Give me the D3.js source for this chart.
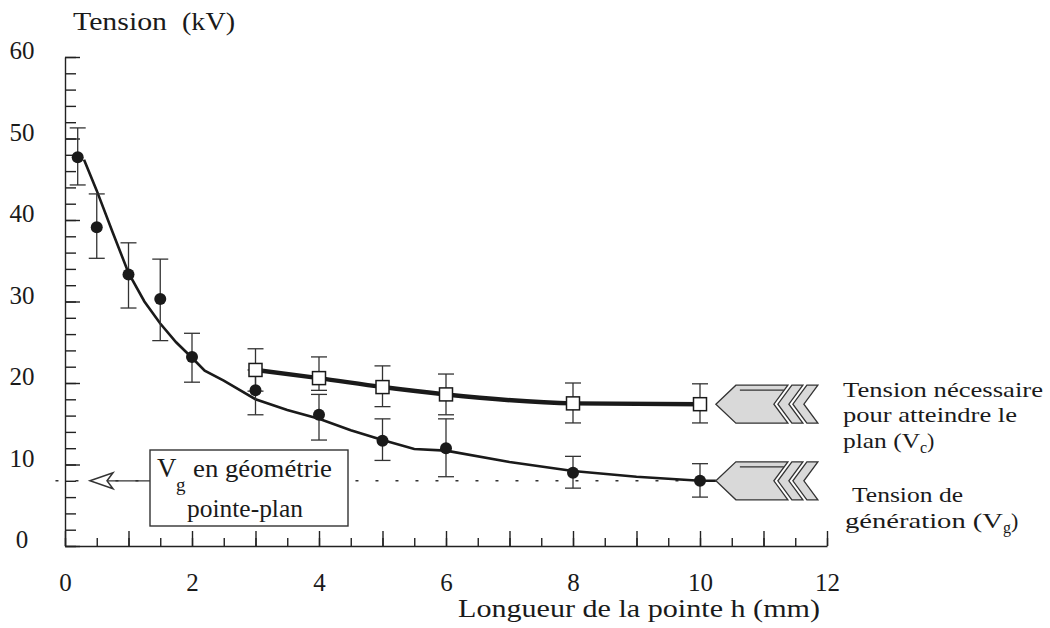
<!DOCTYPE html>
<html>
<head>
<meta charset="utf-8">
<script src="https://cdn.jsdelivr.net/npm/d3@7"></script>
<style>
  body { margin: 0; background: #fff; }
</style>
</head>
<body>
<div id="chart"></div>
<script>
const width = 1050;
const height = 628;
const serif = '"Liberation Serif"';

// Tension de generation (Vg) : points mesures et barres d'erreur
const hGen = [0.2, 0.5, 1, 1.5, 2, 3, 4, 5, 6, 8, 10];
const vGen = [47.7, 39.1, 33.3, 30.3, 23.2, 19.1, 16.1, 12.9, 12.0, 9.0, 8.0];
const vGenLo = [44.3, 35.3, 29.2, 25.2, 20.1, 16.1, 13.0, 10.5, 8.5, 7.1, 6.0];
const vGenHi = [51.3, 43.2, 37.2, 35.2, 26.1, 21.6, 18.6, 15.6, 15.6, 11.0, 10.1];

// courbe lissee de Vg
const fitH = [0.3, 0.5, 0.75, 1.0, 1.25, 1.5, 1.75, 2.0, 2.2, 2.5, 3.0, 3.5, 4.0, 4.5, 5.0, 5.5, 6.0, 7.0, 8.0, 9.0, 10.0, 10.25];
const fitV = [47.4, 43.6, 38.5, 33.5, 30.0, 27.3, 25.0, 23.1, 21.5, 20.3, 18.0, 16.7, 15.6, 14.2, 13.0, 11.9, 11.7, 10.3, 9.2, 8.5, 8.0, 8.0];

// Tension necessaire pour atteindre le plan (Vc)
const hCrit = [3, 4, 5, 6, 8, 10];
const vCrit = [21.6, 20.6, 19.5, 18.6, 17.5, 17.4];
const vCritLo = [19.0, 19.1, 17.1, 16.1, 15.1, 15.1];
const vCritHi = [24.2, 23.2, 22.1, 21.1, 20.0, 19.9];

// Vg en geometrie pointe-plan
const vgPointePlan = 8;
const dottedH = [-0.15, 10];

const xTicks = [0, 2, 4, 6, 8, 10, 12];
const yTicks = [0, 10, 20, 30, 40, 50, 60];

const svg = d3.select('#chart')
  .append('svg')
  .attr('width', width)
  .attr('height', height);

const x = d3.scaleLinear().domain([0, 12]).range([65, 827]);
const y = d3.scaleLinear().domain([0, 60]).range([546, 57]);

function label(sel, size) {
  return sel.style('font-family', serif).style('font-size', size + 'px').attr('fill', '#1a1a1a');
}

// Axe Y : graduations vers l'interieur
svg.append('g')
  .attr('transform', `translate(${x(0)},0)`)
  .call(d3.axisRight(y).tickValues(d3.range(0, 61, 2)).tickSize(11).tickSizeOuter(0).tickFormat(''))
  .call(g => g.selectAll('line,path').attr('stroke', '#222').attr('stroke-width', 1.4));
svg.append('g')
  .attr('transform', `translate(${x(0)},0)`)
  .call(d3.axisRight(y).tickValues(yTicks).tickSize(15).tickSizeOuter(0).tickFormat(''))
  .call(g => g.select('.domain').remove())
  .call(g => g.selectAll('line').attr('stroke', '#222').attr('stroke-width', 1.4));
svg.append('g')
  .attr('transform', `translate(${x(0)},0)`)
  .call(d3.axisLeft(y).tickValues(yTicks).tickSize(0).tickPadding(43))
  .call(g => g.select('.domain').remove())
  .call(g => label(g.selectAll('text'), 25)
    .attr('text-anchor', 'middle')
    .attr('dy', '0.07em'));

// Axe X
svg.append('g')
  .attr('transform', `translate(0,${y(0)})`)
  .call(d3.axisTop(x).tickValues(d3.range(0, 12.01, 0.5)).tickSize(8).tickSizeOuter(0).tickFormat(''))
  .call(g => g.selectAll('line,path').attr('stroke', '#222').attr('stroke-width', 1.4));
svg.append('g')
  .attr('transform', `translate(0,${y(0)})`)
  .call(d3.axisTop(x).tickValues(d3.range(0, 12.01, 1)).tickSize(15).tickSizeOuter(0).tickFormat(''))
  .call(g => g.select('.domain').remove())
  .call(g => g.selectAll('line').attr('stroke', '#222').attr('stroke-width', 1.4));
svg.append('g')
  .attr('transform', `translate(0,${y(0)})`)
  .call(d3.axisBottom(x).tickValues(xTicks).tickSize(0).tickPadding(27))
  .call(g => g.select('.domain').remove())
  .call(g => label(g.selectAll('text'), 25));

// Titres des axes
label(svg.append('text'), 26)
  .attr('x', 73).attr('y', 30)
  .attr('textLength', 94).attr('lengthAdjust', 'spacingAndGlyphs')
  .text('Tension');
label(svg.append('text'), 26)
  .attr('x', 182).attr('y', 30)
  .attr('textLength', 53).attr('lengthAdjust', 'spacingAndGlyphs')
  .text('(kV)');
label(svg.append('text'), 26)
  .attr('x', 458).attr('y', 617)
  .attr('textLength', 362).attr('lengthAdjust', 'spacingAndGlyphs')
  .text('Longueur de la pointe h (mm)');

// Ligne pointillee Vg pointe-plan
svg.append('line')
  .attr('x1', x(dottedH[0])).attr('x2', x(dottedH[1]))
  .attr('y1', y(vgPointePlan)).attr('y2', y(vgPointePlan))
  .attr('stroke', '#333').attr('stroke-width', 1.4)
  .attr('stroke-dasharray', '3,17');

// Courbes
const lineFit = d3.line().x(d => x(d[0])).y(d => y(d[1]));
svg.append('path')
  .datum(d3.zip(fitH, fitV))
  .attr('d', lineFit)
  .attr('fill', 'none').attr('stroke', '#1a1a1a').attr('stroke-width', 2.6);

const lineCrit = d3.line().x(d => x(d[0])).y(d => y(d[1])).curve(d3.curveMonotoneX);
svg.append('path')
  .datum(d3.zip(hCrit, vCrit))
  .attr('d', lineCrit)
  .attr('fill', 'none').attr('stroke', '#1a1a1a').attr('stroke-width', 4.5);

// Barres d'erreur
function errorBars(hs, lo, hi) {
  const g = svg.append('g').attr('stroke', '#333').attr('stroke-width', 1.3);
  hs.forEach((h, i) => {
    g.append('line').attr('x1', x(h)).attr('x2', x(h)).attr('y1', y(lo[i])).attr('y2', y(hi[i]));
    [lo[i], hi[i]].forEach(v => {
      g.append('line').attr('x1', x(h) - 8).attr('x2', x(h) + 8).attr('y1', y(v)).attr('y2', y(v));
    });
  });
}
errorBars(hGen, vGenLo, vGenHi);
errorBars(hCrit, vCritLo, vCritHi);

// Points
svg.selectAll('.gen')
  .data(d3.zip(hGen, vGen))
  .enter().append('circle')
  .attr('class', 'gen')
  .attr('cx', d => x(d[0])).attr('cy', d => y(d[1]))
  .attr('r', 6)
  .attr('fill', '#1a1a1a');

svg.selectAll('.crit')
  .data(d3.zip(hCrit, vCrit))
  .enter().append('rect')
  .attr('class', 'crit')
  .attr('x', d => x(d[0]) - 6.5).attr('y', d => y(d[1]) - 6.5)
  .attr('width', 13).attr('height', 13)
  .attr('fill', '#fff').attr('stroke', '#1a1a1a').attr('stroke-width', 1.5);

// Encadre "Vg en geometrie pointe-plan"
svg.append('line')
  .attr('x1', 107).attr('x2', 150)
  .attr('y1', y(vgPointePlan)).attr('y2', y(vgPointePlan))
  .attr('stroke', '#333').attr('stroke-width', 1.3);
svg.append('path')
  .attr('transform', `translate(90,${y(vgPointePlan)})`)
  .attr('d', 'M0,0 L23,-8 L17,0 L23,8 Z')
  .attr('fill', '#fff').attr('stroke', '#333').attr('stroke-width', 1.5);

svg.append('rect')
  .attr('x', 150).attr('y', 450).attr('width', 198).attr('height', 76)
  .attr('fill', '#fff').attr('stroke', '#333').attr('stroke-width', 1.4);
label(svg.append('text'), 27).attr('x', 157).attr('y', 477).text('V');
label(svg.append('text'), 19).attr('x', 176).attr('y', 491).text('g');
label(svg.append('text'), 26)
  .attr('x', 193).attr('y', 477)
  .attr('textLength', 139).attr('lengthAdjust', 'spacingAndGlyphs')
  .text('en géométrie');
label(svg.append('text'), 26)
  .attr('x', 187).attr('y', 517)
  .attr('textLength', 116).attr('lengthAdjust', 'spacingAndGlyphs')
  .text('pointe-plan');

// Fleches de legende
function legendArrow(tipX, tipY) {
  const g = svg.append('g')
    .attr('transform', `translate(${tipX},${tipY})`)
    .attr('fill', '#d9d9d9').attr('stroke', '#333').attr('stroke-width', 1.3)
    .attr('stroke-linejoin', 'miter');
  g.append('path').attr('d', 'M0,0 L20,-19 L72,-19 L58,0 L72,19 L20,19 Z');
  g.append('path').attr('d', 'M76,-19 L87,-19 L73,0 L87,19 L76,19 L62,0 Z');
  g.append('path').attr('d', 'M91,-19 L102,-19 L88,0 L102,19 L91,19 L77,0 Z');
  g.append('path').attr('d', 'M24,-14 L68,-14').attr('fill', 'none');
}
legendArrow(x(10.25), y(vCrit[vCrit.length - 1]));
legendArrow(x(10.25), y(vGen[vGen.length - 1]));

function legendLines(lines) {
  lines.forEach(l => {
    const t = label(svg.append('text'), 22).attr('x', l.x).attr('y', l.y);
    t.append('tspan').attr('textLength', l.w).attr('lengthAdjust', 'spacingAndGlyphs').text(l.text);
    if (l.sub) {
      t.append('tspan').attr('dy', 5).style('font-size', '16px').text(l.sub);
      t.append('tspan').attr('dy', -5).text(')');
    }
  });
}
legendLines([
  { x: 843, y: 397, w: 200, text: 'Tension nécessaire' },
  { x: 843, y: 422, w: 174, text: 'pour atteindre le' },
  { x: 843, y: 448, w: 77, text: 'plan (V', sub: 'c' },
  { x: 852, y: 502, w: 111, text: 'Tension de' },
  { x: 845, y: 528, w: 158, text: 'génération (V', sub: 'g' }
]);
</script>
</body>
</html>
